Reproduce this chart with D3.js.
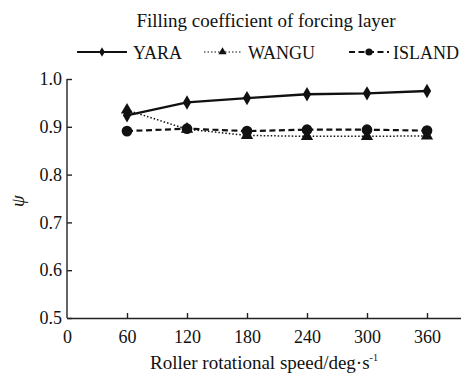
<!DOCTYPE html>
<html>
<head>
<meta charset="utf-8">
<script src="https://cdn.jsdelivr.net/npm/d3@7"></script>
<style>
  body { margin: 0; background: #fff; }
</style>
</head>
<body>
<svg id="chart" width="461" height="376"></svg>
<script>
const speeds = [60, 120, 180, 240, 300, 360];
const yara = [0.924, 0.951, 0.960, 0.968, 0.970, 0.975];
const wangu = [0.935, 0.895, 0.882, 0.880, 0.880, 0.881];
const island = [0.891, 0.896, 0.891, 0.894, 0.894, 0.892];
const xTicks = [0, 60, 120, 180, 240, 300, 360];
const yTicks = [0.5, 0.6, 0.7, 0.8, 0.9, 1.0];

const serif = "Liberation Serif, DejaVu Serif, Times New Roman, Times, serif";
const svg = d3.select("#chart");
const margin = { left: 67, top: 79, bottom: 318 };

const x = d3.scaleLinear().domain([0, 394]).range([margin.left, 461]);
const y = d3.scaleLinear().domain([0.5, 1.0]).range([margin.bottom, margin.top]);

// axes (ticks point inward)
const xAxis = svg.append("g")
  .attr("transform", `translate(0,${margin.bottom})`)
  .call(d3.axisBottom(x).tickValues(xTicks).tickSizeInner(-5).tickSizeOuter(0).tickPadding(12).tickFormat(d3.format("d")));
xAxis.select(".tick:first-of-type line").remove();

const yAxis = svg.append("g")
  .attr("transform", `translate(${margin.left},0)`)
  .call(d3.axisLeft(y).tickValues(yTicks).tickSizeInner(-5).tickSizeOuter(0).tickPadding(5).tickFormat(d3.format(".1f")));
yAxis.select(".domain").attr("d", `M0,${y(0.5)}V${y(1.0)}`);

svg.selectAll(".domain, .tick line").attr("stroke", "#222").attr("stroke-width", 1.4);
svg.selectAll(".tick text").attr("font-family", serif).attr("font-size", 18).attr("fill", "#111");

const line = d3.line().x((d, i) => x(speeds[i])).y(d => y(d));

const series = [
  { name: "YARA", data: yara, dash: null, width: 2.4, marker: d3.symbolDiamond, size: 60 },
  { name: "WANGU", data: wangu, dash: "1.5,2", width: 1.5, marker: d3.symbolTriangle, size: 65 },
  { name: "ISLAND", data: island, dash: "6,3.5", width: 2.2, marker: d3.symbolCircle, size: 90 }
];

series.forEach(s => {
  svg.append("path")
    .datum(s.data)
    .attr("d", line)
    .attr("fill", "none")
    .attr("stroke", "#111")
    .attr("stroke-width", s.width)
    .attr("stroke-dasharray", s.dash);
  svg.selectAll(null)
    .data(s.data)
    .join("path")
    .attr("d", d3.symbol().type(s.marker).size(s.size))
    .attr("transform", (d, i) => `translate(${x(speeds[i])},${y(d)})`)
    .attr("fill", "#111");
});

function label(txt, px, py, size) {
  return svg.append("text")
    .attr("x", px).attr("y", py)
    .attr("font-family", serif)
    .attr("font-size", size)
    .attr("fill", "#111")
    .text(txt);
}

// title
label("Filling coefficient of forcing layer", 266, 27, 19).attr("text-anchor", "middle");

// legend
const legend = [
  { x0: 77, x1: 127, tx: 133 },
  { x0: 204, x1: 241, tx: 248 },
  { x0: 349, x1: 389, tx: 393 }
];
series.forEach((s, i) => {
  const L = legend[i], ly = 52;
  svg.append("line")
    .attr("x1", L.x0).attr("x2", L.x1).attr("y1", ly).attr("y2", ly)
    .attr("stroke", "#111").attr("stroke-width", s.width * 0.8).attr("stroke-dasharray", s.dash);
  svg.append("path")
    .attr("d", d3.symbol().type(s.marker).size(s.size * 0.45))
    .attr("transform", `translate(${(L.x0 + L.x1) / 2},${ly})`)
    .attr("fill", "#111");
  label(s.name, L.tx, ly + 7, 18);
});

// axis titles
label("Roller rotational speed/deg·s", 264, 369, 19)
  .attr("text-anchor", "middle")
  .append("tspan")
  .attr("dy", -8)
  .attr("font-size", 10)
  .text("-1");

label("ψ", 0, 0, 19)
  .attr("transform", "translate(24,201) rotate(-90)")
  .attr("text-anchor", "middle")
  .attr("font-style", "italic");
</script>
</body>
</html>
